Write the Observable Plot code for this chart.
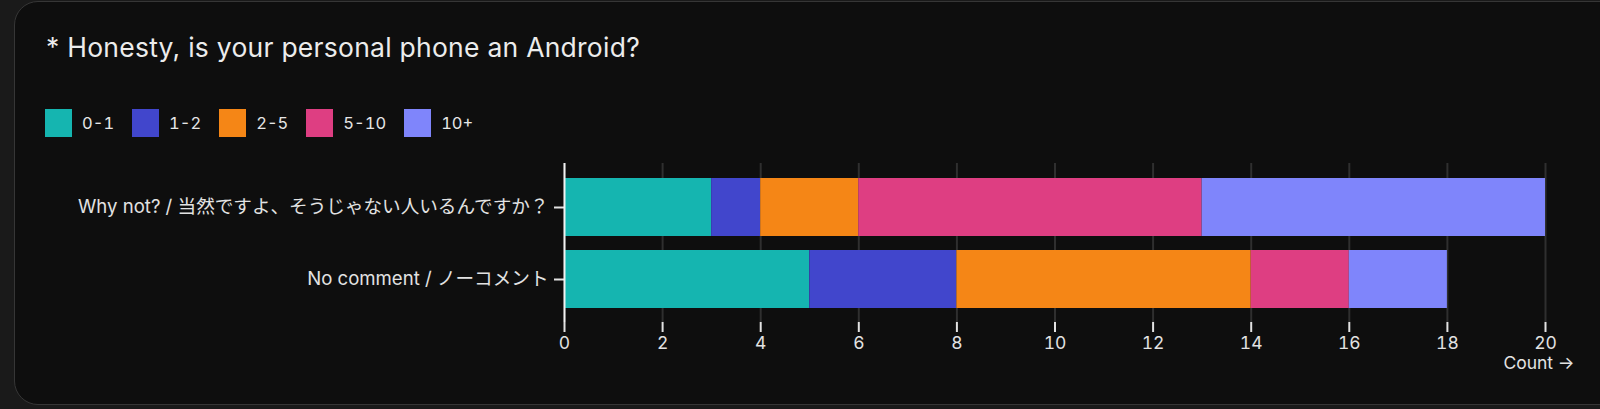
<!DOCTYPE html>
<html>
<head>
<meta charset="utf-8">
<script src="https://cdn.jsdelivr.net/npm/d3@7"></script>
<script src="https://cdn.jsdelivr.net/npm/@observablehq/plot@0.6"></script>
<style>
  html, body { margin: 0; padding: 0; background: #1a1a1a; width: 1600px; height: 409px; overflow: hidden; }
  body { font-family: Inter, "Noto Sans CJK JP", sans-serif; }
  #card { position: absolute; left: 14px; top: 1px; width: 1640px; height: 404px; box-sizing: border-box;
          border: 1.5px solid #363636; border-radius: 24px; background: #0e0e0e; }
  #title { position: absolute; left: 46px; top: 34px; font: 26.5px/26px Inter, sans-serif; letter-spacing: 0.25px; color: #ececec; white-space: nowrap; }
  #legend { position: absolute; left: 45px; top: 109px; }
  #chart { position: absolute; left: 0; top: 150px; }
  .lg-swatches { margin: 0 !important; min-height: 0 !important; font-family: Inter, sans-serif !important; font-size: 16.5px !important; font-variant-numeric: tabular-nums !important; color: #e6e6e6 !important; }
  .lg-swatch { margin-right: 18px !important; font-variant-numeric: tabular-nums !important; }
  .lg-swatch svg { margin-right: 10px !important; }
</style>
</head>
<body>
<div id="card"></div>
<div id="title">* Honesty, is your personal phone an Android?</div>
<div id="legend"></div>
<div id="chart"></div>
<script>
const answers = ["Why not? / 当然ですよ、そうじゃない人いるんですか？", "No comment / ノーコメント"];
const ranges = ["0-1", "1-2", "2-5", "5-10", "10+"];
const whyNotCounts = [3, 1, 2, 7, 7];
const noCommentCounts = [5, 3, 6, 2, 2];
const colors = ["#15b5b0", "#4146cc", "#f58616", "#de3e82", "#7f85fb"];
const xTicks = [0, 2, 4, 6, 8, 10, 12, 14, 16, 18, 20];

const rows = [];
[whyNotCounts, noCommentCounts].forEach((vals, i) => {
  vals.forEach((v, j) => rows.push({answer: answers[i], range: ranges[j], count: v}));
});

const colorOpts = {domain: ranges, range: colors};

document.getElementById("legend").append(
  Plot.legend({color: colorOpts, swatchWidth: 27, swatchHeight: 28, className: "lg"})
);

const chart = Plot.plot({
  width: 1577,
  height: 240,
  marginTop: 13,
  marginBottom: 68,
  marginLeft: 564,
  marginRight: 32,
  style: {background: "transparent", color: "#e2e2e2", fontFamily: 'Inter, "Noto Sans CJK JP", sans-serif', overflow: "visible"},
  x: {domain: [0, 20], ticks: xTicks, label: "Count"},
  y: {domain: answers, padding: 0.2, label: null},
  color: colorOpts,
  marks: [
    Plot.gridX(xTicks, {stroke: "#2f2f2f", strokeOpacity: 1, strokeWidth: 2}),
    Plot.barX(rows, Plot.stackX({x: "count", y: "answer", fill: "range", order: ranges})),
    Plot.axisX({ticks: xTicks, tickSize: 10, tickPadding: 4, fontSize: 17.5, fontVariant: "tabular-nums", strokeWidth: 2, label: "Count", labelArrow: true, labelOffset: 46}),
    Plot.axisY({tickSize: 10, tickPadding: 6, fontSize: 18.6, strokeWidth: 2, label: null}),
    Plot.ruleX([0], {stroke: "#f2f2f2", strokeWidth: 2})
  ]
});
document.getElementById("chart").append(chart);
</script>
</body>
</html>
